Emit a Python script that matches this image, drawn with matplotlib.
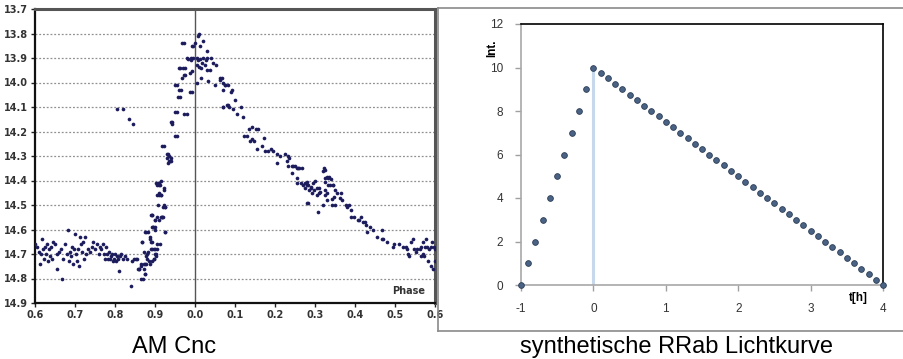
import numpy as np
import matplotlib
matplotlib.use("Agg")
import matplotlib.pyplot as plt
from matplotlib.lines import Line2D

plt.rcParams["axes.unicode_minus"] = False

# --- AM Cnc: phase before maximum (0.6 .. 1.0) ---
pre_phase = [
    0.600, 0.605, 0.610, 0.612, 0.615, 0.618, 0.620, 0.622, 0.625, 0.628, 0.630, 0.632, 0.635, 0.638,
    0.640, 0.642, 0.645, 0.650, 0.655, 0.656, 0.660, 0.665, 0.668, 0.670, 0.675, 0.680, 0.682, 0.685,
    0.688, 0.690, 0.693, 0.695, 0.698,
    0.700, 0.702, 0.705, 0.708, 0.710, 0.712, 0.715, 0.718, 0.720, 0.722, 0.725, 0.728, 0.732, 0.738,
    0.742, 0.745, 0.750, 0.755, 0.760, 0.762, 0.765, 0.770, 0.772, 0.775, 0.778, 0.780, 0.782, 0.785,
    0.788, 0.790, 0.792, 0.795, 0.798,
    0.800, 0.803, 0.806, 0.808, 0.810, 0.812, 0.815, 0.820, 0.825, 0.830, 0.840, 0.842, 0.848, 0.855,
    0.860, 0.865, 0.868, 0.870, 0.872, 0.875, 0.878, 0.880, 0.882, 0.885, 0.888, 0.890, 0.892, 0.893,
    0.895, 0.897, 0.898, 0.900, 0.902, 0.904, 0.905, 0.906, 0.908, 0.910, 0.911, 0.912, 0.914, 0.916,
    0.918, 0.920, 0.922, 0.924, 0.926,
    0.805, 0.820, 0.835, 0.845,
    0.937, 0.941, 0.903, 0.908, 0.909, 0.906, 0.914, 0.923, 0.923, 0.924, 0.892, 0.901, 0.909, 0.918,
    0.924, 0.912, 0.901, 0.895, 0.878, 0.887, 0.892, 0.889, 0.899, 0.882, 0.867, 0.872, 0.878, 0.881,
    0.887, 0.892, 0.897, 0.901, 0.903, 0.866, 0.876, 0.872, 0.876, 0.866, 0.859, 0.853, 0.857,
    0.968, 0.9925, 0.9725, 0.979, 0.989, 0.961, 0.969, 0.9725, 0.9875, 0.950, 0.961, 0.957, 0.9875,
    0.950, 0.973, 0.940, 0.943, 0.951, 0.918, 0.932, 0.929, 0.935, 0.933, 0.904, 0.910, 0.921, 0.890,
    0.900, 0.914, 0.875, 0.8925,
    0.996, 0.983, 0.990, 0.996, 0.9625, 0.975, 0.992, 0.975, 0.967, 0.954, 0.964, 0.9625, 0.992,
    0.979, 0.954, 0.942, 0.954, 0.923, 0.931, 0.936, 0.940,
]
pre_mag = [
    14.66, 14.67, 14.69, 14.74, 14.70, 14.64, 14.68, 14.72, 14.67, 14.70, 14.66, 14.73, 14.68, 14.71,
    14.67, 14.72, 14.65, 14.66, 14.70, 14.76, 14.69, 14.68, 14.80, 14.72, 14.66, 14.70, 14.60, 14.73,
    14.69, 14.71, 14.67, 14.74, 14.68,
    14.62, 14.70, 14.73, 14.68, 14.75, 14.63, 14.66, 14.69, 14.65, 14.72, 14.63, 14.70, 14.68, 14.69,
    14.67, 14.65, 14.68, 14.66, 14.70, 14.67, 14.68, 14.66, 14.70, 14.72, 14.67, 14.70, 14.72, 14.69,
    14.72, 14.71, 14.70, 14.73, 14.72,
    14.70, 14.73, 14.71, 14.72, 14.77, 14.71, 14.70, 14.72, 14.71, 14.72, 14.83, 14.73, 14.72, 14.72,
    14.76, 14.75, 14.65, 14.80, 14.74, 14.78, 14.74, 14.70, 14.61, 14.73, 14.63, 14.65, 14.68, 14.54,
    14.59, 14.68, 14.72, 14.60, 14.70, 14.68, 14.55, 14.66, 14.50, 14.46, 14.41, 14.42, 14.46, 14.40,
    14.55, 14.55, 14.44, 14.51, 14.61,
    14.11, 14.11, 14.15, 14.17,
    14.32, 14.31, 14.41, 14.41, 14.42, 14.46, 14.46, 14.43, 14.50, 14.51, 14.54, 14.56, 14.56, 14.55,
    14.61, 14.66, 14.59, 14.59, 14.61, 14.64, 14.65, 14.68, 14.68, 14.69, 14.65, 14.69, 14.71, 14.72,
    14.74, 14.73, 14.72, 14.70, 14.71, 14.74, 14.74, 14.76, 14.78, 14.80, 14.76, 14.72, 14.76,
    13.84, 13.85, 13.84, 13.90, 13.90, 13.94, 13.94, 13.97, 13.96, 14.01, 14.03, 14.06, 14.04,
    14.12, 14.13, 14.16, 14.17, 14.22, 14.26, 14.29, 14.31, 14.32, 14.33, 14.42, 14.45, 14.51, 14.54,
    14.56, 14.55, 14.61, 14.59,
    13.85, 13.905, 13.91, 13.90, 13.94, 13.94, 13.955, 13.97, 13.98, 14.01, 14.03, 14.06, 14.04,
    14.13, 14.12, 14.16, 14.22, 14.26, 14.29, 14.30, 14.32,
]

# --- AM Cnc: phase after maximum (0.0 .. 0.6) ---
post_phase = [
    0.000, 0.008, 0.0125, 0.021, 0.011, 0.004, 0.0125, 0.021, 0.029, 0.031, 0.040, 0.046, 0.004, 0.010,
    0.015, 0.025, 0.029, 0.0375, 0.052, 0.008, 0.017, 0.027, 0.004, 0.015, 0.033, 0.050, 0.0625, 0.067,
    0.075, 0.082, 0.092, 0.071, 0.083,
    0.0625, 0.069, 0.075, 0.069, 0.090, 0.100, 0.069, 0.080, 0.086, 0.094, 0.114, 0.104, 0.120, 0.136,
    0.143, 0.153, 0.158, 0.143, 0.148, 0.1225, 0.129, 0.1375, 0.173, 0.167, 0.156, 0.175, 0.183, 0.189,
    0.196, 0.204, 0.2125, 0.225, 0.233, 0.236, 0.229, 0.206, 0.242, 0.250, 0.258, 0.267, 0.3225,
    0.233, 0.242, 0.244, 0.254, 0.260, 0.256, 0.256, 0.266, 0.270, 0.276, 0.281, 0.274, 0.285, 0.290,
    0.293, 0.300, 0.304, 0.309, 0.279, 0.307, 0.319, 0.324, 0.332, 0.326, 0.330, 0.324, 0.338, 0.345,
    0.350, 0.343, 0.330, 0.356, 0.362, 0.366, 0.368, 0.377, 0.385, 0.380, 0.390, 0.391, 0.398, 0.407,
    0.411, 0.415, 0.420, 0.424, 0.428, 0.431, 0.437, 0.445, 0.454, 0.467, 0.471, 0.480, 0.467, 0.495,
    0.497, 0.509, 0.520, 0.527, 0.531, 0.532, 0.535, 0.539, 0.544, 0.548, 0.552, 0.556, 0.563, 0.565,
    0.569, 0.572, 0.574, 0.578, 0.580, 0.586, 0.590, 0.592, 0.597, 0.599, 0.582, 0.589, 0.595, 0.599,
    0.565, 0.569,
    0.325, 0.329, 0.335, 0.340, 0.333, 0.325, 0.346, 0.348, 0.343, 0.350, 0.320, 0.279, 0.283, 0.290,
    0.296, 0.298, 0.304, 0.310, 0.3125, 0.283,
]
post_mag = [
    13.84, 13.81, 13.85, 13.83, 13.80, 13.90, 13.905, 13.90, 13.87, 13.90, 13.90, 13.92, 13.93, 13.935,
    13.94, 13.93, 13.95, 13.95, 13.93, 13.91, 13.92, 13.91, 14.00, 13.98, 13.995, 14.01, 13.99, 13.98,
    14.01, 14.01, 14.03, 14.10, 14.09,
    13.98, 14.00, 14.01, 14.03, 14.04, 14.07, 14.10, 14.09, 14.10, 14.11, 14.10, 14.13, 14.14, 14.19,
    14.18, 14.19, 14.19, 14.23, 14.24, 14.22, 14.22, 14.24, 14.225, 14.26, 14.27, 14.28, 14.28, 14.27,
    14.28, 14.29, 14.30, 14.29, 14.30, 14.31, 14.32, 14.33, 14.34, 14.34, 14.35, 14.35, 14.35,
    14.34, 14.37, 14.34, 14.35, 14.35, 14.39, 14.41, 14.41, 14.42, 14.41, 14.42, 14.43, 14.44, 14.43,
    14.45, 14.40, 14.43, 14.45, 14.49, 14.53, 14.36, 14.39, 14.39, 14.44, 14.45, 14.46, 14.42, 14.42,
    14.44, 14.50, 14.48, 14.45, 14.47, 14.45, 14.48, 14.50, 14.50, 14.51, 14.52, 14.55, 14.55, 14.56,
    14.56, 14.55, 14.57, 14.57, 14.58, 14.61, 14.59, 14.60, 14.63, 14.64, 14.64, 14.65, 14.60, 14.67,
    14.66, 14.66, 14.67, 14.67, 14.68, 14.70, 14.71, 14.65, 14.64, 14.68, 14.69, 14.68, 14.68, 14.67,
    14.70, 14.71, 14.67, 14.64, 14.67, 14.68, 14.67, 14.65, 14.67, 14.68, 14.73, 14.75, 14.76, 14.73,
    14.71, 14.65,
    14.357, 14.387, 14.385, 14.395, 14.42, 14.405, 14.418, 14.466, 14.477, 14.50, 14.50, 14.405, 14.418,
    14.428, 14.41, 14.44, 14.46, 14.43, 14.445, 14.49,
]

phase_ticks = [0.6, 0.7, 0.8, 0.9, 1.0, 0.1, 0.2, 0.3, 0.4, 0.5, 0.6]
phase_labels = ["0.6", "0.7", "0.8", "0.9", "0.0", "0.1", "0.2", "0.3", "0.4", "0.5", "0.6"]
mag_ticks = [13.7, 13.8, 13.9, 14.0, 14.1, 14.2, 14.3, 14.4, 14.5, 14.6, 14.7, 14.8, 14.9]

# --- synthetic RRab light curve ---
t_rise = [-1.0, -0.9, -0.8, -0.7, -0.6, -0.5, -0.4, -0.3, -0.2, -0.1, 0.0]
int_rise = [0, 1, 2, 3, 4, 5, 6, 7, 8, 9, 10]
t_fall = [0.1, 0.2, 0.3, 0.4, 0.5, 0.6, 0.7, 0.8, 0.9, 1.0,
          1.1, 1.2, 1.3, 1.4, 1.5, 1.6, 1.7, 1.8, 1.9, 2.0,
          2.1, 2.2, 2.3, 2.4, 2.5, 2.6, 2.7, 2.8, 2.9, 3.0,
          3.1, 3.2, 3.3, 3.4, 3.5, 3.6, 3.7, 3.8, 3.9, 4.0]
int_fall = [9.75, 9.5, 9.25, 9.0, 8.75, 8.5, 8.25, 8.0, 7.75, 7.5,
            7.25, 7.0, 6.75, 6.5, 6.25, 6.0, 5.75, 5.5, 5.25, 5.0,
            4.75, 4.5, 4.25, 4.0, 3.75, 3.5, 3.25, 3.0, 2.75, 2.5,
            2.25, 2.0, 1.75, 1.5, 1.25, 1.0, 0.75, 0.5, 0.25, 0.0]

fig = plt.figure(figsize=(9.04, 3.59), dpi=100)

# ---------------- left panel ----------------
ax1 = fig.add_axes([35 / 904, 56 / 359, 400 / 904, 294 / 359])
x_pre = np.array(pre_phase) - 1.0
x_post = np.array(post_phase)
ax1.scatter(np.concatenate([x_pre, x_post]), pre_mag + post_mag,
            s=7, color="#1c1c5c", linewidths=0, zorder=3)
ax1.set_xlim(-0.4, 0.6)
ax1.set_ylim(14.9, 13.7)
for m in mag_ticks[1:-1]:
    ax1.axhline(m, color="#909090", lw=0.9, ls=(0, (1.5, 1.5)), zorder=1)
ax1.axvline(0.0, color="#555555", lw=1.0, zorder=2)
ax1.set_xticks([p - 1.0 if i < 5 else p for i, p in enumerate(phase_ticks)])
ax1.set_xticklabels(phase_labels)
ax1.set_yticks(mag_ticks)
ax1.set_yticklabels([f"{m:.1f}" for m in mag_ticks])
for lab in ax1.get_xticklabels() + ax1.get_yticklabels():
    lab.set_fontweight("bold")
    lab.set_fontsize(7)
    lab.set_color("#333333")
ax1.tick_params(axis="both", direction="out", length=3, width=1, color="#222222")
ax1.tick_params(axis="y", pad=2)
ax1.tick_params(axis="x", pad=2)
for side in ["left", "bottom"]:
    ax1.spines[side].set_linewidth(1.6)
    ax1.spines[side].set_color("#111111")
for side in ["top", "right"]:
    ax1.spines[side].set_linewidth(2.2)
    ax1.spines[side].set_color("#555555")
ax1.text(0.535, 14.85, "Phase", fontsize=7, fontweight="bold", color="#333333",
         ha="center", va="center")

# ---------------- right panel ----------------
ax2 = fig.add_axes([521 / 904, 74 / 359, 362 / 904, 261 / 359])
ax2.plot([0, 0], [0, 10], color="#c8d8ec", lw=2.2, zorder=1)
ax2.scatter(t_rise + t_fall, int_rise + int_fall, s=17, color="#4a6284",
            edgecolors="#2b3d55", linewidths=0.6, zorder=3, clip_on=False)
ax2.set_xlim(-1, 4)
ax2.set_ylim(0, 12)
ax2.set_xticks([-1, 0, 1, 2, 3, 4])
ax2.set_yticks([0, 2, 4, 6, 8, 10, 12])
ax2.tick_params(axis="both", direction="out", length=4, width=1, color="#a0a0a0",
                labelsize=8.5, labelcolor="#333333")
ax2.tick_params(axis="x", pad=9)
ax2.tick_params(axis="y", pad=9)
for lab in ax2.get_xticklabels() + ax2.get_yticklabels():
    lab.set_fontfamily("Liberation Sans")
for side in ["left", "bottom"]:
    ax2.spines[side].set_color("#a8a8a8")
    ax2.spines[side].set_linewidth(1.2)
for side in ["top", "right"]:
    ax2.spines[side].set_color("#000000")
    ax2.spines[side].set_linewidth(1.2)
ax2.text(-1.4, 10.9, "Int.", rotation=90, fontsize=8.5, fontweight="bold",
         ha="center", va="center", clip_on=False, family="Liberation Sans")
ax2.text(3.66, -0.6, "t[h]", fontsize=8.5, fontweight="bold",
         ha="center", va="center", clip_on=False, family="Liberation Sans")

# frame around the right chart
frame_col = "#8a8a8a"
fig.add_artist(Line2D([438 / 904, 438 / 904], [1 - 8 / 359, 1 - 331 / 359],
                      color=frame_col, lw=1.2, transform=fig.transFigure))
fig.add_artist(Line2D([438 / 904, 1.0], [1 - 8 / 359, 1 - 8 / 359],
                      color=frame_col, lw=1.2, transform=fig.transFigure))
fig.add_artist(Line2D([438 / 904, 1.0], [1 - 331 / 359, 1 - 331 / 359],
                      color=frame_col, lw=1.2, transform=fig.transFigure))

# captions
fig.text(174 / 904, 1 - 347 / 359, "AM Cnc", fontsize=17, family="Liberation Sans",
         ha="center", va="center")
fig.text(677 / 904, 1 - 347 / 359, "synthetische RRab Lichtkurve", fontsize=17,
         family="Liberation Sans", ha="center", va="center")

fig.savefig("out.png", dpi=100)
